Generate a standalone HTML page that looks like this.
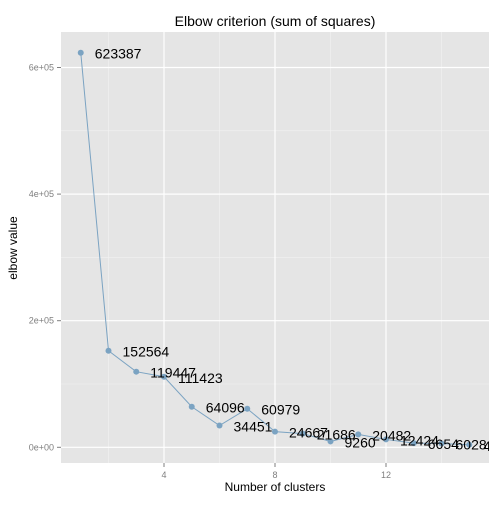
<!DOCTYPE html>
<html><head><meta charset="utf-8"><style>
body{margin:0;background:#fff;font-family:"Liberation Sans",sans-serif}
</style></head><body>
<svg width="504" height="504">
<text x="275" y="26" text-anchor="middle" font-size="14">Elbow criterion (sum of squares)</text>
<rect x="61" y="32" width="428" height="431" fill="#e5e5e5"/>
<g id="grid"></g>
<g id="ticks"></g>
<polyline id="line" fill="none" stroke="#7ba3c2" stroke-width="1"/>
<g id="pts"></g>
<svg x="61" y="32" width="428" height="431" overflow="hidden"><g id="labels" transform="translate(-61,-32)"></g></svg>
<text x="275" y="491" text-anchor="middle" font-size="12">Number of clusters</text>
<text transform="translate(17,248) rotate(-90)" text-anchor="middle" font-size="12">elbow value</text>
</svg>
<script>
const clusters=[1,2,3,4,5,6,7,8,9,10,11,12,13,14,15];
const values=[623387,152564,119447,111423,64096,34451,60979,24667,21686,9260,20482,12424,6654,6028,4000];
const labels=["623387","152564","119447","111423","64096","34451","60979","24667","21686","9260","20482","12424","6654","6028","4000"];
const xTicks=[4,8,12];
const yTicks=[0,200000,400000,600000];
const yTickLabels=["0e+00","2e+05","4e+05","6e+05"];
const NS="http://www.w3.org/2000/svg";
const X=v=>164+(v-4)*27.75;
const Y=v=>447.3-v*0.000633;
function mk(t,a,p){const e=document.createElementNS(NS,t);for(const k in a)e.setAttribute(k,a[k]);p.appendChild(e);return e;}
const grid=document.getElementById('grid'),ticks=document.getElementById('ticks');
[2,6,10,14].forEach(v=>{const l=mk('line',{x1:X(v),x2:X(v),y1:32,y2:463,stroke:'#f2f2f2','stroke-width':0.6},grid);

});
[100000,300000,500000].forEach(v=>{const l=mk('line',{x1:61,x2:489,y1:Y(v),y2:Y(v),stroke:'#f2f2f2','stroke-width':0.6},grid);

});
xTicks.forEach(v=>{const l=mk('line',{x1:X(v),x2:X(v),y1:32,y2:463,stroke:'#fff','stroke-width':1.2},grid);


const tk=mk('line',{x1:X(v),x2:X(v),y1:463,y2:467,stroke:'#7f7f7f'},ticks);


const t=mk('text',{x:X(v),y:478,'text-anchor':'middle','font-size':9,fill:'#7f7f7f'},ticks);t.textContent=v;

});
yTicks.forEach((v,i)=>{const l=mk('line',{x1:61,x2:489,y1:Y(v),y2:Y(v),stroke:'#fff','stroke-width':1.2},grid);


const tk=mk('line',{x1:57,x2:61,y1:Y(v),y2:Y(v),stroke:'#7f7f7f'},ticks);


const t=mk('text',{x:54,y:Y(v)+3,'text-anchor':'end','font-size':9,fill:'#7f7f7f'},ticks);t.textContent=yTickLabels[i];

});
document.getElementById('line').setAttribute('points',clusters.map((c,i)=>X(c)+','+Y(values[i])).join(' '));
const pts=document.getElementById('pts'),lab=document.getElementById('labels');
clusters.forEach((c,i)=>{const p=mk('circle',{cx:X(c),cy:Y(values[i]),r:3,fill:'#7ba3c2'},pts);


const t=mk('text',{x:X(c)+14,y:Y(values[i])+6,'font-size':14,fill:'#000'},lab);t.textContent=labels[i];

});
</script>
</body></html>
